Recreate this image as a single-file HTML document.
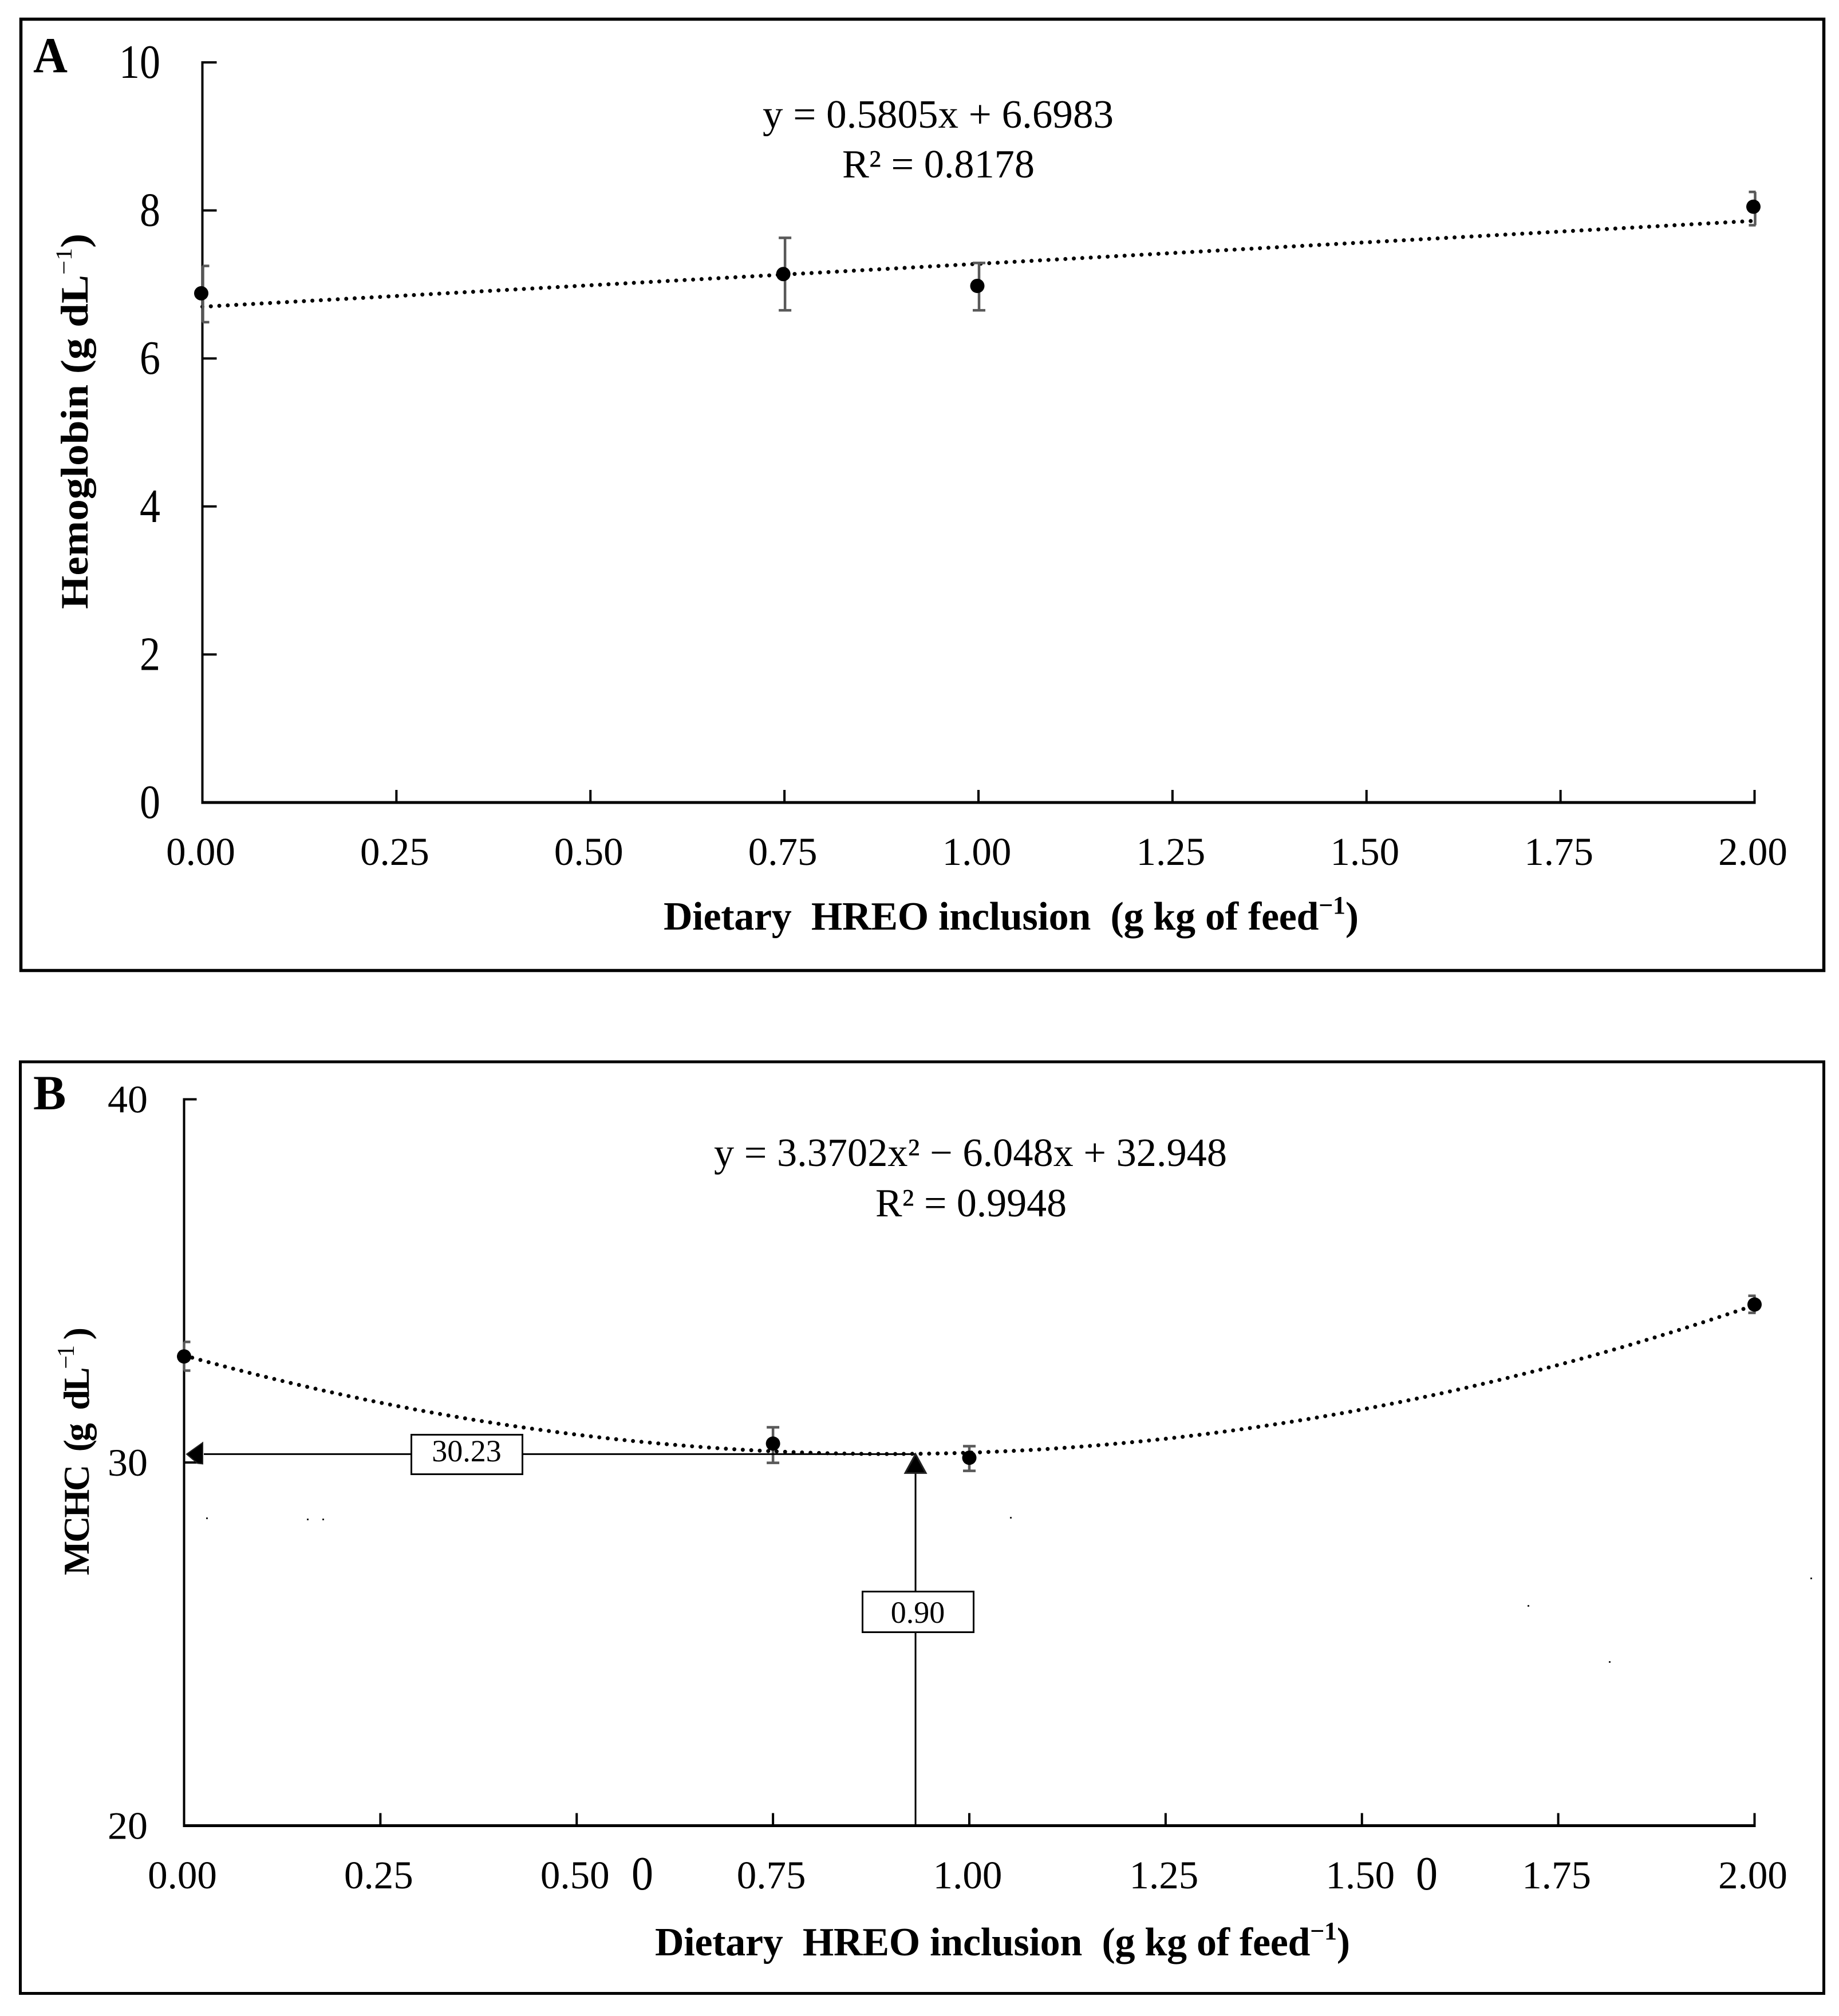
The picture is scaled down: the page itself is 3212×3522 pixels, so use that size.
<!DOCTYPE html>
<html lang="en">
<head>
<meta charset="utf-8">
<title>Hemoglobin and MCHC vs dietary HREO inclusion</title>
<style>
html,body{margin:0;padding:0;background:#fff;}
svg{display:block;}
text{font-family:"Liberation Serif","Times New Roman",serif;fill:#000;white-space:pre;}
.b{font-weight:bold;}
</style>
</head>
<body>
<svg id="figure" xmlns="http://www.w3.org/2000/svg" width="3212" height="3522" viewBox="0 0 3212 3522">
  <rect x="0" y="0" width="3212" height="3522" fill="#fff"/>

  <rect x="36.5" y="33.5" width="3149" height="1662" fill="#fff" stroke="#000" stroke-width="5.5"/>
  <text class="b" x="58" y="126" font-size="88" textLength="60" lengthAdjust="spacingAndGlyphs">A</text>
  <text x="1332" y="223" font-size="70" textLength="613" lengthAdjust="spacingAndGlyphs">y = 0.5805x + 6.6983</text>
  <text x="1471" y="310" font-size="70" textLength="336" lengthAdjust="spacingAndGlyphs">R² = 0.8178</text>
  <text class="b" transform="translate(153,1064) rotate(-90)" font-size="68" textLength="656" lengthAdjust="spacingAndGlyphs">Hemoglobin (g dL<tspan dy="-28" font-size="40" font-weight="normal">−1</tspan><tspan dy="28">)</tspan></text>
  <text class="b" x="1159" y="1624" font-size="70" textLength="1214" lengthAdjust="spacing">Dietary  HREO inclusion  (g kg of feed<tspan dy="-28" font-size="44">−1</tspan><tspan dy="28">)</tspan></text>
  <g id="panel-a"></g>

  <rect x="35.5" y="1855" width="3150" height="1627.5" fill="#fff" stroke="#000" stroke-width="5"/>
  <text class="b" x="58" y="1938" font-size="86">B</text>
  <text x="1247" y="2037" font-size="70" textLength="896" lengthAdjust="spacingAndGlyphs">y = 3.3702x² − 6.048x + 32.948</text>
  <text x="1529" y="2125" font-size="70" textLength="334" lengthAdjust="spacingAndGlyphs">R² = 0.9948</text>
  <text class="b" transform="translate(155,2752) rotate(-90)" font-size="64" textLength="433" lengthAdjust="spacing">MCHC  (g  dL<tspan dy="-26" font-size="42" font-weight="normal">−1</tspan><tspan dy="26"> )</tspan></text>
  <text class="b" x="1144" y="3416" font-size="70" textLength="1214" lengthAdjust="spacing">Dietary  HREO inclusion  (g kg of feed<tspan dy="-28" font-size="44">−1</tspan><tspan dy="28">)</tspan></text>
  <g id="panel-b"></g>

  <text x="1122" y="3301" font-size="84" text-anchor="middle" textLength="38" lengthAdjust="spacingAndGlyphs">0</text>
  <text x="2492" y="3301" font-size="84" text-anchor="middle" textLength="38" lengthAdjust="spacingAndGlyphs">0</text>

  <g fill="#222">
    <rect x="360" y="2651" width="3" height="3"/>
    <rect x="536" y="2653" width="3" height="3"/>
    <rect x="563" y="2653" width="3" height="3"/>
    <rect x="1764" y="2650" width="3" height="3"/>
    <rect x="3162" y="2756" width="3" height="3"/>
    <rect x="2668" y="2804" width="3" height="3"/>
    <rect x="2810" y="2902" width="3" height="3"/>
  </g>
</svg>

<script>
// Panel A data
const aTickValuesX = [0, 0.25, 0.5, 0.75, 1, 1.25, 1.5, 1.75, 2];
const aTickLabelsX = ["0.00", "0.25", "0.50", "0.75", "1.00", "1.25", "1.50", "1.75", "2.00"];
const aTickValuesY = [0, 2, 4, 6, 8, 10];
const aDoses = [0, 0.75, 1, 2];
const aMeans = [6.88, 7.14, 6.98, 8.05];
const aErrUpper = [7.25, 7.63, 7.29, 8.25];
const aErrLower = [6.49, 6.65, 6.65, 7.80];
const aTrendCoefficients = [6.6983, 0.5805, 0];

// Panel B data
const bTickValuesX = [0, 0.25, 0.5, 0.75, 1, 1.25, 1.5, 1.75, 2];
const bTickLabelsX = ["0.00", "0.25", "0.50", "0.75", "1.00", "1.25", "1.50", "1.75", "2.00"];
const bTickValuesY = [20, 30, 40];
const bDoses = [0, 0.75, 1, 2];
const bMeans = [32.92, 30.52, 30.13, 34.35];
const bErrUpper = [33.32, 30.97, 30.45, 34.59];
const bErrLower = [32.53, 29.99, 29.77, 34.12];
const bTrendCoefficients = [32.948, -6.048, 3.3702];
const bOptimumX = [0.9315];
const bOptimumY = [30.23];
const bOptimumLabels = ["0.90", "30.23"];

const NS = "http://www.w3.org/2000/svg";
function mk(parent, tag, attrs, content) {
  const el = document.createElementNS(NS, tag);
  for (const k in attrs) el.setAttribute(k, attrs[k]);
  if (content !== undefined) el.textContent = content;
  parent.appendChild(el);
  return el;
}

function drawPanel(g, cfg) {
  const sx = v => cfg.x0 + cfg.xPerUnit * v;
  const sy = v => cfg.yBase - cfg.yPerUnit * (v - cfg.yMin);

  // trendline
  let d = "";
  const n = 200;
  for (let i = 0; i <= n; i++) {
    const v = 2 * i / n;
    const t = cfg.trend[0] + cfg.trend[1] * v + cfg.trend[2] * v * v;
    d += (i ? "L" : "M") + sx(v).toFixed(2) + " " + sy(t).toFixed(2);
  }
  const trend = mk(g, "path", {d: d, fill: "none", stroke: "#000", "stroke-width": 7, "stroke-linecap": "round", "stroke-dasharray": "0 14.8"});
  
  

  // axes
  const yAxis = mk(g, "line", {x1: sx(0), x2: sx(0), y1: sy(cfg.yMax) - 2, y2: cfg.yBase + 2.5, stroke: "#000", "stroke-width": 4});
  
  
  const xAxis = mk(g, "line", {x1: sx(0) - 2, x2: sx(2) + 2, y1: cfg.yBase, y2: cfg.yBase, stroke: "#000", "stroke-width": 5});
  
  

  // y ticks and labels
  cfg.yTicks.forEach(v => {
    if (v !== cfg.yMin) {
      const tick = mk(g, "line", {x1: sx(0), x2: sx(0) + cfg.yTickLen, y1: sy(v), y2: sy(v), stroke: "#000", "stroke-width": 4});
      
      
    }
    const text = String(v);
    const label = mk(g, "text", {x: cfg.yLabelX, y: sy(v) + cfg.yLabelDy, "font-size": cfg.yFont, "text-anchor": "end", textLength: text.length * cfg.yDigitWidth, lengthAdjust: "spacingAndGlyphs"}, text);
    
    
  });

  // x ticks and labels
  cfg.xTicks.forEach((v, i) => {
    if (v !== 0) {
      const tick = mk(g, "line", {x1: sx(v), x2: sx(v), y1: cfg.yBase - 22, y2: cfg.yBase, stroke: "#000", "stroke-width": 4});
      
      
    }
    const label = mk(g, "text", {x: sx(v) - 3, y: cfg.xLabelY, "font-size": 69, "text-anchor": "middle"}, cfg.xLabels[i]);
    
    
  });

  // error bars
  const capHalf = 11;
  cfg.doses.forEach((v, i) => {
    const ex = sx(v) + cfg.errOffset;
    const bar = mk(g, "line", {x1: ex, x2: ex, y1: sy(cfg.upper[i]), y2: sy(cfg.lower[i]), stroke: "#595959", "stroke-width": 4.5});
    
    
    const left = Math.max(ex - capHalf, sx(0));
    const right = Math.min(ex + capHalf, sx(2) + 2);
    [cfg.upper[i], cfg.lower[i]].forEach(e => {
      const cap = mk(g, "line", {x1: left, x2: right, y1: sy(e), y2: sy(e), stroke: "#595959", "stroke-width": 4.5});
      
      
    });
  });

  // points
  cfg.doses.forEach((v, i) => {
    const dot = mk(g, "circle", {cx: sx(v) + cfg.dotOffset, cy: sy(cfg.means[i]), r: 12.5, fill: "#000"});
    
    
  });
  return {sx, sy};
}

const scaleA = drawPanel(document.getElementById("panel-a"), {
  x0: 353.5, xPerUnit: 1355.5, yBase: 1402, yPerUnit: 129.3, yMin: 0, yMax: 10,
  yTicks: aTickValuesY, yTickLen: 25, yLabelX: 280, yLabelDy: 27, yFont: 84, yDigitWidth: 36,
  xTicks: aTickValuesX, xLabels: aTickLabelsX, xLabelY: 1511,
  doses: aDoses, means: aMeans, upper: aErrUpper, lower: aErrLower,
  trend: aTrendCoefficients, errOffset: 1, dotOffset: -2
});

const panelB = document.getElementById("panel-b");
const scaleB = drawPanel(panelB, {
  x0: 321.5, xPerUnit: 1371.5, yBase: 3189.5, yPerUnit: 63.45, yMin: 20, yMax: 40,
  yTicks: bTickValuesY, yTickLen: 22, yLabelX: 258, yLabelDy: 23, yFont: 68, yDigitWidth: 35,
  xTicks: bTickValuesX, xLabels: bTickLabelsX, xLabelY: 3299,
  doses: bDoses, means: bMeans, upper: bErrUpper, lower: bErrLower,
  trend: bTrendCoefficients, errOffset: 0, dotOffset: 0
});

// Optimum reference lines and markers in panel B
const optX = scaleB.sx(bOptimumX[0]);
const optY = scaleB.sy(bOptimumY[0]);

const hLine = mk(panelB, "line", {x1: 356, x2: optX, y1: optY, y2: optY, stroke: "#000", "stroke-width": 3});



const vLine = mk(panelB, "line", {x1: optX, x2: optX, y1: optY, y2: 3189, stroke: "#000", "stroke-width": 3});



const triUp = mk(panelB, "polygon", {points: optX + "," + optY + " " + (optX + 18) + "," + (optY + 33) + " " + (optX - 18) + "," + (optY + 33), fill: "#000", stroke: "#222", "stroke-width": 3});



const triLeft = mk(panelB, "polygon", {points: "326," + optY + " 354," + (optY - 20) + " 354," + (optY + 17) + " 345," + (optY + 16), fill: "#000", stroke: "#222", "stroke-width": 2});



const boxX = mk(panelB, "rect", {x: 1506.5, y: 2780.5, width: 194, height: 71, fill: "#fff", stroke: "#000", "stroke-width": 3});



const boxXText = mk(panelB, "text", {x: 1603, y: 2835, "font-size": 54, "text-anchor": "middle"}, bOptimumLabels[0]);



const boxY = mk(panelB, "rect", {x: 718.5, y: 2506.5, width: 194, height: 69, fill: "#fff", stroke: "#000", "stroke-width": 3});



const boxYText = mk(panelB, "text", {x: 815, y: 2553, "font-size": 54, "text-anchor": "middle"}, bOptimumLabels[1]);


</script>
</body>
</html>
